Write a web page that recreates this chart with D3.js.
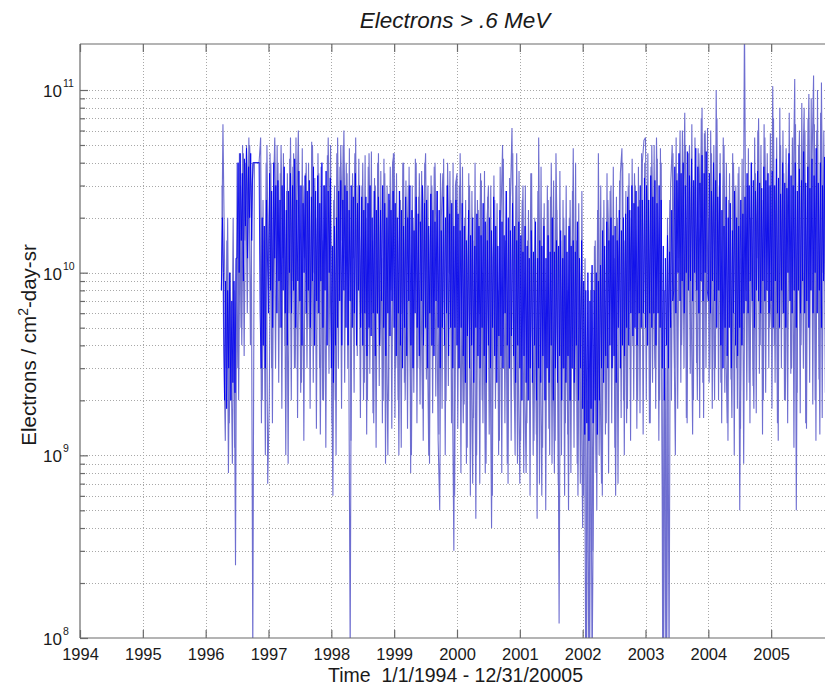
<!DOCTYPE html>
<html><head><meta charset="utf-8">
<script src="https://cdn.jsdelivr.net/npm/d3@7/dist/d3.min.js"></script>
<style>
body{margin:0;background:#fff}
svg{display:block}
text{font-family:"Liberation Sans",Arial,Helvetica,sans-serif;fill:#1a1a1a}
</style>
</head><body>
<svg id="chart" width="825" height="688"></svg>
<script>
// ---------- data (values in units of 1e9 electrons / cm^2-day-sr) ----------
const yearTicks = [1994,1995,1996,1997,1998,1999,2000,2001,2002,2003,2004,2005];
const decadeTicks = [1e8, 1e9, 1e10, 1e11];
const decadeExponents = ["8", "9", "10", "11"];
const fluxUnit = 1e9;

// excursion samples (spikes), every 0.025 yr
const spikeStep = 0.025;
const start1996 = 1996.25;
const flux1996 = [8,65,12,3,20,1.5,5,0.9,8,0.25, 40,2,30,4,45,15,50,20,50,25, 0.08,40,40,40,40,55,2,15,1,50];
const flux1997 = [8,45,3,25,55,10,40,5,50,12, 30,1.0,35,6,55,9,45,3,20,60, 8,2.5,30,12,40,5,25,4,50,10, 20,6,35,1.3,15,2,30,8,55,12];
const flux1998 = [4,0.6,30,1.0,55,8,50,15,60,10, 35,6,0.08,25,12,45,8,30,15,6, 40,2.5,20,2,45,8,15,1.5,30,6, 45,4,12,2,35,5,1.0,25,8,40];
const flux1999 = [45,3,15,1.0,25,6,40,2,12,30, 5,1.0,20,8,40,3,35,10,1.8,25, 45,6,1.0,15,30,4,40,9,1.2,0.5, 20,35,6,2,40,10,25,3,0.3,30];
const flux2000 = [35,3,45,8,1.5,20,0.9,12,30,4, 0.7,15,0.45,25,6,35,2,10,0.8,18, 30,5,0.4,12,25,3,8,1.2,20,50, 6,15,0.9,10,25,62,5,1.0,45,3];
const flux2001 = [0.7,10,30,3,0.8,15,2,35,5,1.2, 12,0.45,55,4,0.6,20,8,2,25,1.0, 40,6,0.8,45,10,0.12,15,3,20,1.5, 8,0.5,25,4,48,2,15,0.6,10,3];
const flux2002 = [0.4,5,0.05,2,0.05,8,0.06,1.0,15,0.5, 45,3,0.7,20,6,1.5,25,10,30,3, 12,0.6,20,8,35,48,2,15,1.5,30, 8,20,4,35,12,2,25,6,40,53];
const flux2003 = [55,6,25,1.5,50,10,3,55,15,2, 40,0.05,8,0.05,20,0.06,30,50,6,1.0, 35,12,60,4,20,75,1.6,25,50,8, 1.3,30,15,2,45,20,80,1.6,60,10];
const flux2004 = [20,3,45,10,2,100,8,30,2.5,15, 50,5,1.5,25,8,1.6,40,10,3,35, 0.5,12,4,250,8,30,2.5,20,6,1.8, 35,12,70,4,25,2,55,10,30,5];
const flux2005 = [8,105,4,30,1.5,20,50,6,35,2, 15,40,10,3,25,115,0.5,20,60,4, 30,80,1.5,25,95,8,40,120,2,60, 15,1.3,110,10,30,5];

// second set of excursion samples, offset by half a step
const offsetB = 0.0125;
const fluxB1996 = [30,4,1.2,15,0.8,10,2,20,1.1,12, 3,45,5,50,3.5,40,6,55,4,30, 40,40,40,40,40, 1.5,25,3,40,0.7];
const fluxB1997 = [2,40,1.5,30,3,50,2.5,35,1.8,45, 4,28,0.9,42,2,38,3,55,1.6,30, 2.2,48,1.2,35,3,40,1.8,52,2.5,33, 1.4,45,3,38,2,30,1.1,44,2.8,50];
const fluxB1998 = [1.5,25,2,45,3,38,1.8,50,2.5,40, 3,48,1.2,35,2.2,55,3.5,42,1.6,30, 2,44,1.3,38,2.8,46,1.7,33,1.1,40, 2.4,36,1.5,42,0.9,30,2,38,1.4,45];
const fluxB1999 = [1.6,35,2,28,1.1,40,2.5,32,1.4,38, 0.8,30,2.2,42,1.5,26,1.9,36,1.2,40, 2.6,30,0.9,34,1.7,38,2.1,28,1.3,35, 1.8,42,1.0,30,2.4,36,1.5,40,0.6,32];
const fluxB2000 = [1.4,30,0.8,38,1.9,25,1.1,35,0.6,28, 1.6,40,1.0,22,0.7,32,1.5,36,0.9,26, 1.3,30,0.6,34,1.8,24,1.0,38,0.8,42, 1.5,28,0.7,33,1.2,45,2,30,0.9,36];
const fluxB2001 = [1.2,25,0.8,30,1.5,22,0.6,35,1.0,20, 1.3,28,0.7,38,1.1,24,0.5,30,1.4,26, 0.9,32,1.2,22,0.7,36,1.0,25,0.6,30, 1.3,20,0.8,28,1.1,40,0.9,24,0.7,28];
const fluxB2002 = [0.6,12,0.08,8,0.09,10,0.3,14,0.8,22, 1.0,30,0.6,25,1.3,35,0.8,28,1.5,38, 1.1,26,0.7,32,1.6,40,1.0,28,1.8,35, 1.2,42,2,30,1.4,38,1.7,45,1.3,40];
const fluxB2003 = [2,45,1.5,38,2.5,50,1.8,42,1.2,48, 2.2,0.06,3,0.07,5,25,2,45,3,55, 1.8,40,2.5,60,3,50,1.5,45,2.8,65, 2,55,3.2,48,1.6,70,2.5,58,3,62];
const fluxB2004 = [2.5,60,1.8,50,3,70,2,45,1.5,55, 2.2,40,1.2,35,2.6,45,1.0,30,1.8,38, 1.4,42,0.9,30,2,48,1.5,40,2.4,55, 1.7,60,2.8,50,1.3,65,2.2,45,3,58];
const fluxB2005 = [1.8,70,2.5,55,1.2,80,3,60,2,48, 1.5,75,2.8,55,1.1,65,2.2,50,1.7,85, 3,60,1.4,70,2.5,90,1.9,65,1.2,100, 2.6,75,1.6,60,2.2];

// dense core samples, every 1/60 yr
const coreStep = 1 / 60;
const core1996 = [8,20,10, 2,9,1.8,8,3,10,2,7,2.5,9,2.2,12, 12,40,10,45,15,35,9,42,18,48,12,38,20,45,15, 40,40,40,40,40,40,40, 6,3,20,4,18,3,25];
const core1997 = [6,35,8,28,5,40,12,30,6,32, 9,25,5,30,8,38,6,22,4,28, 10,35,6,30,8,42,5,25,9,36, 7,30,4,24,10,34,6,28,8,32, 5,26,9,38,4,28,7,34,6,24, 9,40,5,30,8,36,4,28,10,33];
const core1998 = [3,14,2.5,18,4,20, 5,28,7,32,4,25,8,30,5,28,4,22,7,30,5,26,6,35,4,24,8,30,5,26, 4,22,6,26,3.5,24,5,30,4.5,20,6,28,3.5,22,6,26,4,22,7,30,5,24,3.5,20,6,27,4.5,22,7,28];
const core1999 = [5,24,3.5,20,6,28,4,22,3,18, 5,26,3.5,20,7,30,4,22,3,17, 6,26,5,21,3.5,19,7,30,4,24, 5,25,3,18,6,27,4,22,3.5,19, 7,28,5,22,3,17,5,26,4,20, 6,30,3.5,21,5,24,3,18,5,25];
const core2000 = [4,21,3,17,5,24,3.5,18,2.5,15, 4.5,22,3,16,4,20,2.5,14,5,21, 3.5,18,3,16,5,24,3.5,19,2.5,15, 4,20,3,17,5,26,3.5,18,2.5,14, 4.5,22,3.5,19,3,16,6,28,4,20, 3,17,4.5,24,3.5,18,2.5,15,4,19];
const core2001 = [3,16,2,13,3.5,18,2.5,14,2,12, 3,17,2.5,13,4,19,2,12,3,15, 2.5,14,3.5,18,2,12,3,16,2.5,13, 4,20,2,13,3,15,2.5,14,3.5,17, 2,12,3,16,2.5,13,3.5,18,2,14, 3,15,2.5,13,4,19,2,12,3,15];
const core2002 = [1.8,9,1.3,8,1.5,10,1.2,7,1.8,11,1.5,8,2,10,1.3,9,2,11, 3,17,2.5,14,3.5,19,3,15,4,20,3,16,3.5,18,2.5,15,5,22,3,17,4,20,3.5,21, 5,26,4,22,6,30,4.5,24,5,28,4,23,6,30,5,25,6,33];
const core2003 = [5,30,4,25,6,34,5,26,6,32,4,24,6,30,5,25, 3,14,2,12,4,16,3,13,5,22,7, 8,38,6,32,10,45,7,35,9,40,6,30,10,46,8,34,9,42,7,32,10,48,8,38,6,31,9,44,7,35,10,46,8];
const core2004 = [7,35,6,28,9,40,7,32,5,26,8,35, 4,22,3,18,5,26,3.5,20,5,24,3,17,6,28,4,20,3.5,18,5,25,4,21,6,26, 7,35,6,30,9,40,7,32,5,28,8,36,7,31,6,29,9,38,7,32,8,35,6,30];
const core2005 = [7,36,5,30,9,42,6,33,5,27, 8,40,6,31,5,29,10,45,7,34, 6,30,8,40,5,28,8,37,6,32, 9,46,6,31,7,38,5,29,8,42, 6,34,10,48,6,31,8,40,5,30, 9,43,7];

const titleText = "Electrons > .6 MeV";
const xLabelText = "Time  1/1/1994 - 12/31/20005";

// ---------- build series ----------
const yearStarts = [start1996, 1997, 1998, 1999, 2000, 2001, 2002, 2003, 2004, 2005];
const spikeChunks = [flux1996, flux1997, flux1998, flux1999, flux2000, flux2001, flux2002, flux2003, flux2004, flux2005];
const spikeChunksB = [fluxB1996, fluxB1997, fluxB1998, fluxB1999, fluxB2000, fluxB2001, fluxB2002, fluxB2003, fluxB2004, fluxB2005];
const coreChunks = [core1996, core1997, core1998, core1999, core2000, core2001, core2002, core2003, core2004, core2005];
const toSeries = (chunks, step, offset) => chunks.flatMap((arr, k) => arr.map((v, i) => ({t: yearStarts[k] + offset + i * step, v: v * fluxUnit})));
const spikeSeries = toSeries(spikeChunks, spikeStep, 0);
const spikeSeriesB = toSeries(spikeChunksB, spikeStep, offsetB);
const coreSeries = toSeries(coreChunks, coreStep, 0);

// ---------- layout ----------
const svg = d3.select("#chart");
const L = 80, T = 44, B = 638, R = 834;   // right edge lies just past the window, as in the reference
const x = d3.scaleLinear().domain([1994, 2006]).range([L, R]);
const yTop = Math.pow(10, 11 + 46 / 182.67);
const y = d3.scaleLog().domain([1e8, yTop]).range([B, T]);

svg.append("rect").attr("x", L).attr("y", T).attr("width", R - L).attr("height", B - T).attr("fill", "#fff");

// grid
const grid = svg.append("g").attr("stroke", "#a8a8a8").attr("stroke-width", 1).attr("stroke-dasharray", "1,2");
yearTicks.slice(1).forEach(yr => {
  grid.append("line").attr("x1", Math.round(x(yr)) + 0.5).attr("x2", Math.round(x(yr)) + 0.5)
    .attr("y1", T).attr("y2", B);
});
const minorVals = [];
decadeTicks.forEach(d => { for (let m = 1; m <= 9; m++) { const v = m * d; if (v > 1e8 && v < yTop) minorVals.push(v); } });
minorVals.forEach(v => {
  grid.append("line").attr("x1", L).attr("x2", R).attr("y1", Math.round(y(v)) + 0.5).attr("y2", Math.round(y(v)) + 0.5);
});

// data lines
svg.append("clipPath").attr("id", "clip").append("rect").attr("x", L).attr("y", T).attr("width", R - L).attr("height", B - T);
const line = d3.line().x(d => x(d.t)).y(d => y(d.v));
[spikeSeriesB, spikeSeries].forEach(s => {
  svg.append("path").datum(s).attr("clip-path", "url(#clip)")
    .attr("fill", "none").attr("stroke", "#6e6ed0").attr("stroke-width", 1.1)
    .attr("d", line);
});
svg.append("path").datum(coreSeries).attr("clip-path", "url(#clip)")
  .attr("fill", "none").attr("stroke", "#0000f0").attr("stroke-width", 1).attr("stroke-opacity", 0.85)
  .attr("d", line);

// axes frame
const axisColor = "#6a6a6a";
const frame = svg.append("g").attr("stroke", axisColor).attr("stroke-width", 1.2).attr("fill", "none");
frame.append("line").attr("x1", L).attr("x2", R).attr("y1", B).attr("y2", B);
frame.append("line").attr("x1", L).attr("x2", R).attr("y1", T).attr("y2", T);
frame.append("line").attr("x1", L).attr("x2", L).attr("y1", T).attr("y2", B);

// x ticks (bottom, inward) with labels
const xAxis = d3.axisBottom(x).tickValues(yearTicks).tickFormat(d3.format("d")).tickSize(-8).tickPadding(10);
const gx = svg.append("g").attr("transform", `translate(0,${B})`).call(xAxis);
gx.select(".domain").remove();
gx.selectAll(".tick line").attr("stroke", axisColor).attr("stroke-width", 1.2);
gx.selectAll(".tick text").attr("font-size", "16.5px").attr("fill", "#1a1a1a")
  .attr("font-family", '"Liberation Sans",Arial,sans-serif');
// top ticks
const gxt = svg.append("g").attr("transform", `translate(0,${T})`)
  .call(d3.axisTop(x).tickValues(yearTicks).tickFormat("").tickSize(-8));
gxt.select(".domain").remove();
gxt.selectAll(".tick line").attr("stroke", axisColor).attr("stroke-width", 1.2);

// y ticks (left, inward)
const gyMaj = svg.append("g").attr("transform", `translate(${L},0)`)
  .call(d3.axisLeft(y).tickValues(decadeTicks).tickFormat("").tickSize(-8));
gyMaj.select(".domain").remove();
gyMaj.selectAll(".tick line").attr("stroke", axisColor).attr("stroke-width", 1.2);
const gyMin = svg.append("g").attr("transform", `translate(${L},0)`)
  .call(d3.axisLeft(y).tickValues(minorVals.filter(v => !decadeTicks.includes(v))).tickFormat("").tickSize(-5));
gyMin.select(".domain").remove();
gyMin.selectAll(".tick line").attr("stroke", axisColor).attr("stroke-width", 1.2);

// y tick labels 10^n
decadeTicks.forEach((d, i) => {
  const yy = y(d);
  svg.append("text").attr("x", 62).attr("y", yy + 7).attr("text-anchor", "end")
    .attr("font-size", "17px").text("10");
  svg.append("text").attr("x", 63).attr("y", yy - 3).attr("text-anchor", "start")
    .attr("font-size", "10.5px").text(decadeExponents[i]);
});

// title
svg.append("text").attr("x", 455).attr("y", 28).attr("text-anchor", "middle")
  .attr("font-size", "22.5px").attr("font-style", "italic").text(titleText);

// x label
svg.append("text").attr("x", 455.5).attr("y", 682).attr("text-anchor", "middle")
  .attr("font-size", "19.5px").attr("xml:space", "preserve").style("white-space", "pre").text(xLabelText);

// y label
const yl = svg.append("text").attr("transform", "translate(36,345) rotate(-90)").attr("text-anchor", "middle")
  .attr("font-size", "20.5px");
yl.append("tspan").text("Electrons / cm");
yl.append("tspan").attr("dy", -8).attr("font-size", "14px").text("2");
yl.append("tspan").attr("dy", 8).text("-day-sr");
</script>
</body></html>
